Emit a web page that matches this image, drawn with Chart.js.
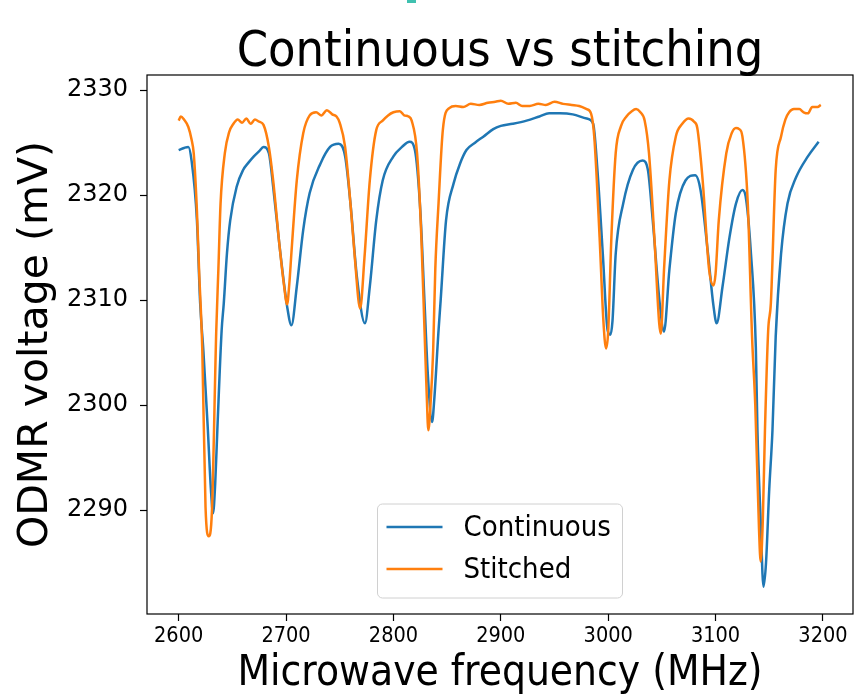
<!DOCTYPE html>
<html lang="en">
<head>
<meta charset="UTF-8">
<title>Continuous vs stitching</title>
<script src="https://cdn.jsdelivr.net/npm/chart.js"></script>
<style>
    html, body { margin: 0; padding: 0; background: #fff; }
    .chart-box { position: relative; width: 855px; height: 699px; }
    .top-mark { position: absolute; left: 407px; top: 0; width: 9px; height: 3px; background: #3fc1b0; }
</style>
</head>
<body>
<div class="chart-box">
    <canvas id="odmr" width="855" height="699"></canvas>
    <div class="top-mark"></div>
</div>

<script>
// Continuous sweep
const freqCont = [2600, 2605, 2609, 2612, 2617, 2620, 2623, 2627, 2630, 2632, 2634, 2636, 2640, 2642, 2645, 2648,
    2654, 2660, 2665, 2670, 2675, 2679, 2684, 2688, 2694, 2701, 2705, 2710, 2716, 2722, 2732, 2741, 2749, 2755,
    2760, 2766, 2773.5, 2778, 2784, 2790, 2800, 2808, 2815, 2820, 2825, 2829, 2832, 2836, 2838, 2842, 2844, 2849,
    2856, 2862, 2868, 2876, 2884, 2893, 2900, 2911, 2924, 2936, 2945, 2955, 2967, 2980, 2986, 2990, 2995, 2999.5,
    3002, 3004, 3007, 3014, 3023, 3032, 3037, 3041.5, 3048, 3052, 3057, 3063, 3072, 3081, 3086, 3093, 3098, 3101,
    3106.5, 3113, 3119, 3125, 3128, 3133, 3137.5, 3139, 3142, 3144.6, 3147, 3150, 3153, 3156, 3161, 3167, 3175,
    3186, 3196];
const voltCont = [2324.3, 2324.5, 2324.6, 2323.3, 2317.6, 2309.7, 2305.2, 2298.0, 2292.0, 2289.7, 2292.5, 2297.6,
    2307.1, 2309.7, 2314.5, 2317.6, 2320.8, 2322.4, 2323.1, 2323.7, 2324.2, 2324.6, 2324.0, 2320.8, 2315.1, 2309.4,
    2307.6, 2311.3, 2316.7, 2320.2, 2323.0, 2324.6, 2324.9, 2323.7, 2319.2, 2312.2, 2307.8, 2311.3, 2317.6, 2321.4,
    2323.7, 2324.6, 2325.1, 2324.3, 2318.6, 2309.7, 2303.0, 2298.4, 2300.5, 2307.1, 2310.0, 2317.6, 2321.1, 2323.0,
    2324.3, 2325.0, 2325.6, 2326.3, 2326.6, 2326.8, 2327.1, 2327.5, 2327.8, 2327.8, 2327.7, 2327.3, 2326.8, 2322.4,
    2314.4, 2307.1, 2306.7, 2308.0, 2314.4, 2319.2, 2322.4, 2323.3, 2322.4, 2317.6, 2309.7, 2307.0, 2312.9, 2318.3,
    2321.4, 2321.9, 2320.5, 2314.4, 2309.5, 2307.8, 2311.3, 2316.0, 2319.2, 2320.5, 2319.9, 2314.4, 2305.5, 2297.6,
    2289.0, 2282.7, 2285.0, 2292.0, 2297.6, 2306.5, 2314.4, 2319.2, 2321.7, 2323.7, 2325.1];

// Stitched sweep
const freqStitch = [2600, 2602, 2605, 2609, 2612, 2614, 2617, 2619, 2622, 2625, 2628, 2631, 2635, 2637, 2639, 2643,
    2647, 2651, 2655, 2659, 2663, 2667, 2671, 2675, 2679, 2684, 2688, 2694, 2698, 2701, 2703, 2705, 2710, 2716, 2722,
    2728, 2733, 2738, 2743, 2747, 2750, 2755, 2760, 2764, 2769, 2773, 2778, 2784, 2790, 2795, 2800, 2806, 2810, 2814,
    2817, 2822, 2826, 2829, 2831, 2832.5, 2834.5, 2837, 2839, 2842, 2846, 2852, 2858, 2865, 2872, 2880, 2888, 2895,
    2900, 2907, 2914, 2920, 2927, 2935, 2942, 2950, 2958, 2966, 2973, 2980, 2984, 2987, 2992, 2995.5, 2998, 3000,
    3003, 3007, 3012, 3017, 3022, 3026, 3030, 3034, 3038, 3043, 3047.5, 3049, 3052, 3057, 3063, 3069, 3075, 3080,
    3083, 3088, 3094, 3098, 3100, 3103, 3110, 3115, 3119, 3122, 3125, 3130, 3134, 3137, 3140.5, 3142, 3144, 3146,
    3149, 3151.5, 3156, 3161, 3165, 3168.5, 3173, 3178, 3182, 3186, 3190, 3195, 3198];
const voltStitch = [2327.1, 2327.5, 2327.2, 2326.5, 2325.3, 2324.0, 2318.5, 2312.9, 2305.2, 2290.3, 2287.5, 2290.0,
    2307.1, 2313.0, 2319.2, 2324.0, 2326.0, 2326.8, 2327.2, 2326.9, 2327.3, 2326.8, 2327.2, 2327.0, 2326.7, 2324.6,
    2321.4, 2315.1, 2311.5, 2309.6, 2311.5, 2314.5, 2321.4, 2325.9, 2327.6, 2327.9, 2327.6, 2328.1, 2327.7, 2327.5,
    2326.9, 2324.6, 2319.2, 2314.1, 2309.2, 2314.0, 2321.4, 2326.2, 2327.1, 2327.6, 2327.9, 2328.0, 2327.6, 2327.5,
    2327.1, 2324.0, 2316.0, 2307.0, 2301.0, 2297.6, 2300.0, 2305.2, 2313.0, 2319.2, 2326.2, 2328.3, 2328.5, 2328.4,
    2328.7, 2328.6, 2328.8, 2328.9, 2329.0, 2328.7, 2328.8, 2328.5, 2328.5, 2328.7, 2328.6, 2328.9, 2328.7, 2328.6,
    2328.5, 2328.2, 2327.8, 2325.6, 2316.0, 2308.1, 2305.4, 2307.0, 2316.0, 2324.0, 2326.6, 2327.5, 2328.0, 2328.2,
    2327.9, 2327.1, 2324.0, 2316.0, 2307.8, 2306.8, 2312.9, 2321.4, 2325.6, 2326.8, 2327.3, 2327.0, 2326.4, 2321.4,
    2312.9, 2311.4, 2312.5, 2317.6, 2324.0, 2325.9, 2326.4, 2326.3, 2325.6, 2319.2, 2306.5, 2300.0, 2288.1, 2285.1,
    2289.0, 2297.6, 2307.1, 2309.7, 2322.4, 2325.6, 2327.2, 2327.9, 2328.2, 2328.2, 2327.9, 2327.8, 2328.4, 2328.4,
    2328.6];

const xTicks = [2600, 2700, 2800, 2900, 3000, 3100, 3200];
const yTicks = [2290, 2300, 2310, 2320, 2330];
const seriesNames = ['Continuous', 'Stitched'];

const toPoints = (xs, ys) => xs.map((x, i) => ({ x: x, y: ys[i] }));

const condensed = "'DejaVu Sans Condensed', 'DejaVu Sans'";
Chart.defaults.font.family = "'DejaVu Sans'";
Chart.defaults.color = '#000';

// axes frame drawn on top of the lines, like matplotlib spines
const framePlugin = {
    id: 'frame',
    afterDatasetsDraw(chart) {
        const a = chart.chartArea;
        const ctx = chart.ctx;
        ctx.save();
        ctx.strokeStyle = '#000';
        ctx.lineWidth = 1.2;
        ctx.strokeRect(a.left, a.top, a.right - a.left, a.bottom - a.top);
        ctx.restore();
    }
};

// "lower center" legend inside the axes
const legendPlugin = {
    id: 'insideLegend',
    afterDraw(chart) {
        const a = chart.chartArea;
        const ctx = chart.ctx;
        const boxW = 245, boxH = 94;
        const x0 = (a.left + a.right) / 2 - boxW / 2;
        const y0 = a.bottom - 16 - boxH;
        ctx.save();
        ctx.beginPath();
        ctx.roundRect(x0, y0, boxW, boxH, 5);
        ctx.fillStyle = 'rgba(255,255,255,0.8)';
        ctx.fill();
        ctx.strokeStyle = '#d0d0d0';
        ctx.lineWidth = 1;
        ctx.stroke();
        ctx.font = "29px " + condensed;
        ctx.textBaseline = 'middle';
        ctx.textAlign = 'left';
        chart.data.datasets.forEach((ds, i) => {
            const idx = seriesNames.indexOf(ds.label);
            const y = y0 + 23 + idx * 42;
            ctx.strokeStyle = ds.borderColor;
            ctx.lineWidth = 2.5;
            ctx.beginPath();
            ctx.moveTo(x0 + 9, y);
            ctx.lineTo(x0 + 65, y);
            ctx.stroke();
            ctx.fillStyle = '#000';
            ctx.fillText(ds.label, x0 + 86, y + 1);
        });
        ctx.restore();
    }
};

new Chart(document.getElementById('odmr'), {
    type: 'line',
    data: {
        datasets: [{
            label: seriesNames[0],
            data: toPoints(freqCont, voltCont),
            borderColor: '#1f77b4',
            borderWidth: 2.5,
            pointRadius: 0,
            cubicInterpolationMode: 'monotone',
            order: 1
        }, {
            label: seriesNames[1],
            data: toPoints(freqStitch, voltStitch),
            borderColor: '#ff7f0e',
            borderWidth: 2.5,
            pointRadius: 0,
            cubicInterpolationMode: 'monotone',
            order: 0
        }]
    },
    options: {
        responsive: false,
        animation: false,
        layout: { padding: { left: 0, right: 2, top: 0, bottom: 0 } },
        plugins: {
            legend: { display: false },
            tooltip: { enabled: false },
            title: {
                display: true,
                fullSize: false,
                text: 'Continuous vs stitching',
                color: '#000',
                font: { size: 50, family: condensed, weight: 'normal', lineHeight: 0.8 },
                padding: { top: 33, bottom: 2 }
            }
        },
        scales: {
            x: {
                type: 'linear',
                min: 2570.5,
                max: 3228,
                afterBuildTicks: axis => { axis.ticks = xTicks.map(v => ({ value: v })); },
                afterFit: axis => { axis.height = 85; },
                ticks: {
                    callback: v => String(v),
                    font: { size: 21.5, family: condensed },
                    color: '#000',
                    padding: 3,
                    maxRotation: 0,
                    autoSkip: false
                },
                grid: { drawOnChartArea: false, drawTicks: true, tickLength: 7, tickColor: '#000', tickWidth: 1.2 },
                border: { display: false },
                title: {
                    display: true,
                    text: 'Microwave frequency (MHz)',
                    color: '#000',
                    font: { size: 42, family: condensed },
                    padding: { top: 13, bottom: 0 }
                }
            },
            y: {
                type: 'linear',
                min: 2280.1,
                max: 2331.45,
                afterBuildTicks: axis => { axis.ticks = yTicks.map(v => ({ value: v })); },
                afterFit: axis => { axis.width = 147; },
                ticks: {
                    callback: v => String(v),
                    font: { size: 24 },
                    color: '#000',
                    padding: 12
                },
                grid: { drawOnChartArea: false, drawTicks: true, tickLength: 7, tickColor: '#000', tickWidth: 1.2 },
                border: { display: false },
                title: {
                    display: true,
                    text: 'ODMR voltage (mV)',
                    color: '#000',
                    font: { size: 41 },
                    padding: { top: 12, bottom: 0 }
                }
            }
        }
    },
    plugins: [framePlugin, legendPlugin]
});
</script>
</body>
</html>
